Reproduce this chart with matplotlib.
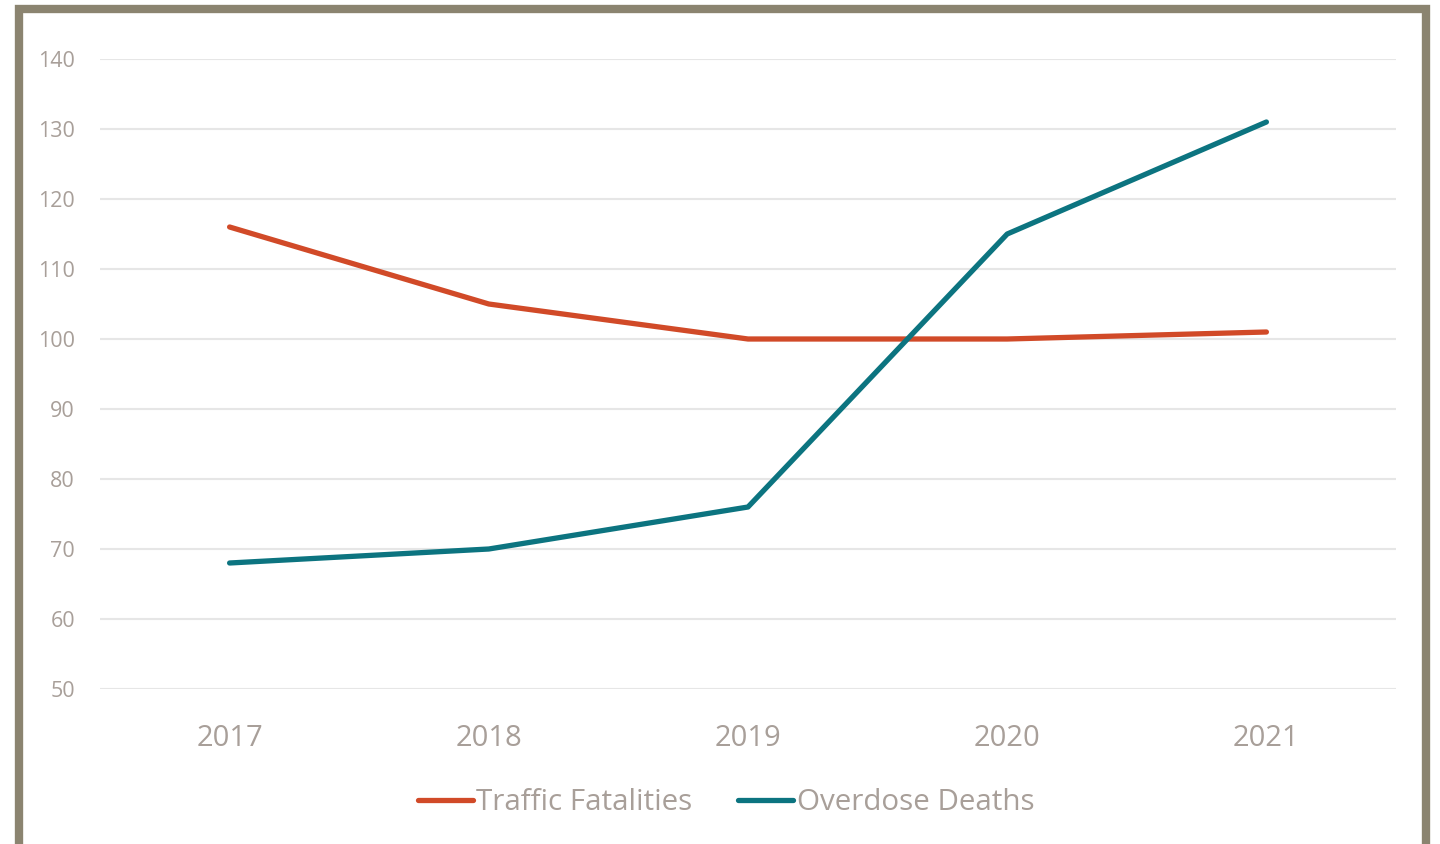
"""Traffic fatalities vs overdose deaths, 2017-2021."""

import matplotlib
matplotlib.use("Agg")
import matplotlib.pyplot as plt
from matplotlib.patches import Rectangle

years = ["2017", "2018", "2019", "2020", "2021"]
traffic = [116, 105, 100, 100, 101]
overdose = [68, 70, 76, 115, 131]
y_ticks = [50, 60, 70, 80, 90, 100, 110, 120, 130, 140]

RED = "#D14A28"
TEAL = "#0C7480"
TEXT = "#A89F99"
GRID = "#E6E6E6"
FRAME = "#8B8470"

plt.rcParams["font.family"] = ["Open Sans", "DejaVu Sans"]

W, H = 1440, 844
fig = plt.figure(figsize=(W / 100, H / 100), dpi=100)
ax = fig.add_axes([100 / W, 155 / H, 1296 / W, 630 / H])

x = list(range(len(years)))
ax.plot(x, traffic, color=RED, lw=3.8, solid_capstyle="round", label="Traffic Fatalities", zorder=3)
ax.plot(x, overdose, color=TEAL, lw=3.8, solid_capstyle="round", label="Overdose Deaths", zorder=3)

ax.set_xlim(-0.5, len(years) - 0.5)
ax.set_ylim(50, 140)
ax.set_yticks(y_ticks)
ax.set_xticks(x)
ax.set_xticklabels(years)
ax.grid(axis="y", color=GRID, lw=1.5)
ax.set_axisbelow(True)
for s in ax.spines.values():
    s.set_visible(False)
ax.tick_params(axis="y", length=0, pad=18, labelsize=15.5, labelcolor=TEXT)
ax.tick_params(axis="x", length=0, pad=25.5, labelsize=21, labelcolor=TEXT)

leg = fig.legend(
    loc="center", bbox_to_anchor=(726 / W, 1 - 803 / H), ncol=2, frameon=False,
    fontsize=21.3, handlelength=1.85, handletextpad=0.12, columnspacing=1.55,
)
for t in leg.get_texts():
    t.set_color(TEXT)

# outer frame
fig.patches.append(Rectangle((19 / W, -2 / H), 1407 / W, 837 / H, transform=fig.transFigure,
                             fill=False, edgecolor=FRAME, lw=6))

fig.savefig("out.png", dpi=100)
